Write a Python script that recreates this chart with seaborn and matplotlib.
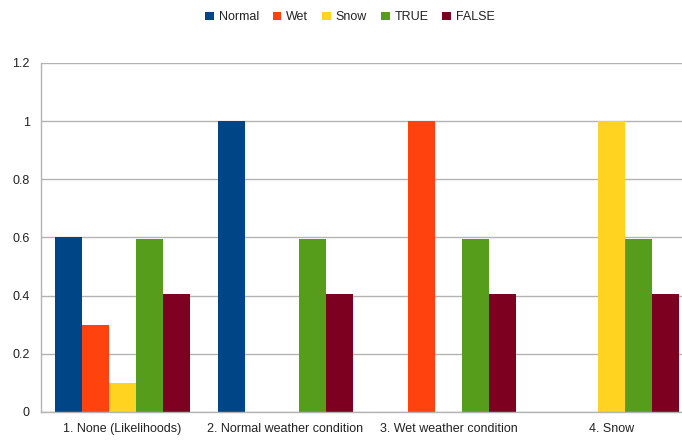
import matplotlib
matplotlib.use("Agg")
import matplotlib.pyplot as plt
from matplotlib.ticker import FixedLocator
from matplotlib.patches import Patch
import seaborn as sns
import pandas as pd

categories = ["1. None (Likelihoods)", "2. Normal weather condition",
              "3. Wet weather condition", "4. Snow"]
series = ["Normal", "Wet", "Snow", "TRUE", "FALSE"]
normal = [0.6, 1.0, 0.0, 0.0]
wet = [0.3, 0.0, 1.0, 0.0]
snow = [0.1, 0.0, 0.0, 1.0]
true_vals = [0.595, 0.595, 0.595, 0.595]
false_vals = [0.405, 0.405, 0.405, 0.405]
y_ticks = [0, 0.2, 0.4, 0.6, 0.8, 1.0, 1.2]
y_tick_labels = ["0", "0.2", "0.4", "0.6", "0.8", "1", "1.2"]
colors = ["#004586", "#ff420e", "#ffd320", "#579d1c", "#7e0021"]

rows = []
for name, vals in zip(series, [normal, wet, snow, true_vals, false_vals]):
    for cat, v in zip(categories, vals):
        rows.append({"category": cat, "series": name, "value": v})
df = pd.DataFrame(rows)

sns.set_style("white")
plt.rcParams["font.family"] = ["Liberation Sans", "DejaVu Sans"]

fig = plt.figure(figsize=(6.82, 4.47), dpi=100)
ax = fig.add_axes([41 / 682, 1 - 412 / 447, 652 / 682, (412 - 63) / 447])

sns.barplot(data=df, x="category", y="value", hue="series", order=categories,
            hue_order=series, palette=colors, width=0.83, saturation=1,
            linewidth=0, errorbar=None, legend=False, ax=ax)

ax.set_xlim(-0.5, 3.5)
ax.set_ylim(0, 1.2)
ax.set_yticks(y_ticks)
ax.set_yticklabels(y_tick_labels)
ax.grid(axis="y", color="#b3b3b3", linewidth=1)
ax.set_axisbelow(True)
for side in ["top", "right"]:
    ax.spines[side].set_visible(False)
for side in ["left", "bottom"]:
    ax.spines[side].set_color("#b3b3b3")
    ax.spines[side].set_linewidth(1)

ax.tick_params(axis="y", length=6, color="#b3b3b3", labelsize=9, pad=2,
               labelcolor="#222222")
ax.tick_params(axis="x", which="major", length=0, labelsize=9, pad=8,
               labelcolor="#222222")
ax.xaxis.set_minor_locator(FixedLocator([0.5, 1.5, 2.5]))
ax.tick_params(axis="x", which="minor", length=5, color="#b3b3b3")
ax.set_xlabel("")
ax.set_ylabel("")

handles = [Patch(facecolor=c, edgecolor="none", label=s) for s, c in zip(series, colors)]
fig.legend(handles=handles, loc="upper center", bbox_to_anchor=(0.513, 1.0),
           ncol=5, frameon=False, fontsize=9, handlelength=0.7, handleheight=0.7,
           handletextpad=0.4, columnspacing=1.1, labelcolor="#222222")

fig.savefig("out.png", dpi=100)
